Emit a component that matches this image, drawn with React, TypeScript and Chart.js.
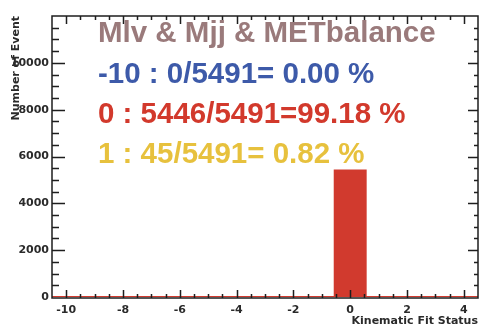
import React, { useEffect, useRef } from "react";
import { Chart, registerables } from "chart.js";

Chart.register(...registerables);

// Kinematic fit status outcomes and their event counts
const STATUS_CODES = [-10, 0, 1];
const STATUS_COUNTS = [0, 5446, 45];
const TOTAL_EVENTS = 5491;

// Histogram bins (unit width, centred on integer status values)
const BIN_CENTERS = [-10, -9, -8, -7, -6, -5, -4, -3, -2, -1, 0, 1, 2, 3, 4];
const X_MIN = -10.5;
const X_MAX = 4.5;
const Y_MIN = 0;
const Y_MAX = 12000;

// Axis tick labels
const X_TICKS = [-10, -8, -6, -4, -2, 0, 2, 4];
const Y_TICKS = [0, 2000, 4000, 6000, 8000, 10000];
const X_MINOR_STEP = 0.5;
const Y_MINOR_STEP = 500;

const SELECTION_TITLE = "Mlv & Mjj & METbalance";
const X_TITLE = "Kinematic Fit Status";
const Y_TITLE = "Number of Event";

const TITLE_COLOR = "#9a7a7b";
const STATUS_COLORS = ["#3d5aa9", "#d2392c", "#e7c13d"];
const HIST_COLOR = "#d13a2e";
const AXIS_COLOR = "#1e1e1e";
const LABEL_FONT = "'DejaVu Sans', sans-serif";
const TEXT_FONT = "'Liberation Sans', Arial, sans-serif";

const binCounts = BIN_CENTERS.map((c) => {
  const i = STATUS_CODES.indexOf(c);
  return i >= 0 ? STATUS_COUNTS[i] : 0;
});

const statusLines = STATUS_CODES.map((code, i) => {
  const pct = ((100 * STATUS_COUNTS[i]) / TOTAL_EVENTS).toFixed(2).padStart(5, " ");
  return `${code} : ${STATUS_COUNTS[i]}/${TOTAL_EVENTS}=${pct} %`;
});

// Frame with inward-pointing major/minor ticks on all four sides
const framePlugin = {
  id: "frameTicks",
  afterDatasetsDraw(chart: any) {
    const { ctx, chartArea: a, scales } = chart;
    const xs = scales.x;
    const ys = scales.y;
    ctx.save();
    ctx.strokeStyle = AXIS_COLOR;
    ctx.lineWidth = 1.5;
    ctx.beginPath();
    ctx.moveTo(a.left, a.top);
    ctx.lineTo(a.right, a.top);
    ctx.lineTo(a.right, a.bottom + 1);
    ctx.lineTo(a.left, a.bottom + 1);
    ctx.closePath();
    ctx.stroke();

    ctx.beginPath();
    for (let v = X_MIN + X_MINOR_STEP; v < X_MAX - 1e-9; v += X_MINOR_STEP) {
      const major = X_TICKS.includes(Math.round(v * 2) / 2);
      const px = Math.round(xs.getPixelForValue(v)) + 0.5;
      const len = major ? 8 : 4;
      ctx.moveTo(px, a.bottom + 1);
      ctx.lineTo(px, a.bottom + 1 - len);
      ctx.moveTo(px, a.top);
      ctx.lineTo(px, a.top + len);
    }
    for (let v = Y_MIN + Y_MINOR_STEP; v < Y_MAX - 1e-9; v += Y_MINOR_STEP) {
      const major = Y_TICKS.includes(v);
      const py = Math.round(ys.getPixelForValue(v)) + 0.5;
      ctx.moveTo(a.left, py);
      ctx.lineTo(a.left + (major ? 13 : 7), py);
      ctx.moveTo(a.right, py);
      ctx.lineTo(a.right - (major ? 10 : 4), py);
    }
    ctx.stroke();
    ctx.restore();
  },
  afterDraw(chart: any) {
    const { ctx, chartArea: a } = chart;
    ctx.save();
    ctx.textAlign = "left";
    ctx.textBaseline = "alphabetic";
    ctx.font = `bold 29.5px ${TEXT_FONT}`;
    const x0 = a.left + 46;
    ctx.fillStyle = TITLE_COLOR;
    ctx.fillText(SELECTION_TITLE, x0, a.top + 26);
    statusLines.forEach((line, i) => {
      ctx.fillStyle = STATUS_COLORS[i];
      ctx.fillText(line, x0, a.top + 67 + i * 40);
    });
    ctx.restore();
  },
};

export default function App() {
  const canvasRef = useRef<HTMLCanvasElement | null>(null);

  useEffect(() => {
    document.body.style.margin = "0";
    const canvas = canvasRef.current;
    if (!canvas) return;
    const tickFont = { family: LABEL_FONT, size: 11, weight: "bold" as const };
    const plain = (v: any) => String(v);
    const chart = new Chart(canvas, {
      type: "bar",
      data: {
        datasets: [
          {
            type: "line",
            data: [
              { x: X_MIN, y: 0 },
              { x: X_MAX, y: 0 },
            ],
            borderColor: HIST_COLOR,
            borderWidth: 2,
            pointRadius: 0,
            order: 0,
          } as any,
          {
            type: "bar",
            data: BIN_CENTERS.map((x, i) => ({ x, y: binCounts[i] })),
            backgroundColor: HIST_COLOR,
            borderWidth: 0,
            barPercentage: 1.16,
            categoryPercentage: 1,
            order: 1,
          } as any,
        ],
      },
      options: {
        responsive: false,
        animation: false,
        events: [],
        layout: { padding: { top: 16, right: 3, left: 0, bottom: 0 } },
        plugins: {
          legend: { display: false },
          tooltip: { enabled: false },
        },
        scales: {
          x: {
            type: "linear",
            min: X_MIN,
            max: X_MAX,
            offset: false,
            afterBuildTicks: (s: any) => {
              s.ticks = X_TICKS.map((value) => ({ value }));
            },
            afterFit: (s: any) => {
              s.height = 31;
            },
            grid: { display: false, drawTicks: false, offset: false },
            border: { display: false },
            ticks: {
              padding: 7,
              maxRotation: 0,
              autoSkip: false,
              color: "#2a2a2a",
              font: tickFont,
              callback: plain,
            },
            title: {
              display: true,
              text: X_TITLE,
              align: "end",
              padding: 0,
              color: "#2a2a2a",
              font: tickFont,
            },
          },
          y: {
            type: "linear",
            min: Y_MIN,
            max: Y_MAX,
            afterBuildTicks: (s: any) => {
              s.ticks = Y_TICKS.map((value) => ({ value }));
            },
            afterFit: (s: any) => {
              s.width = 52;
            },
            grid: { display: false, drawTicks: false },
            border: { display: false },
            ticks: {
              padding: 3,
              color: "#2a2a2a",
              font: tickFont,
              callback: plain,
            },
            title: {
              display: true,
              text: Y_TITLE,
              align: "end",
              padding: { top: 10, bottom: 0 },
              color: "#2a2a2a",
              font: tickFont,
            },
          },
        },
      } as any,
      plugins: [framePlugin],
    });
    return () => chart.destroy();
  }, []);

  return (
    <div style={{ width: 481, height: 328, background: "#fff" }}>
      <canvas ref={canvasRef} width={481} height={328} style={{ display: "block" }} />
    </div>
  );
}
